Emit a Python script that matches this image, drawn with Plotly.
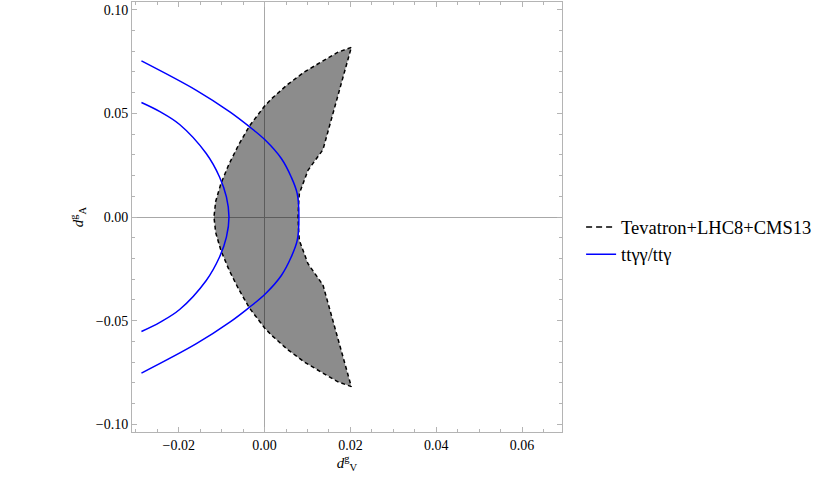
import plotly.graph_objects as go

# allowed region (Tevatron+LHC8+CMS13), traced around the boundary
region_x = [0.0202, 0.0171, 0.0132, 0.0093, 0.0054, 0.0016, 0.0000, -0.0035, -0.0060, -0.0083, -0.0102, -0.0114, -0.0118,
            -0.0114, -0.0102, -0.0083, -0.0060, -0.0035, 0.0000, 0.0016, 0.0054, 0.0093, 0.0132, 0.0171, 0.0202,
            0.0136, 0.0101, 0.0081, 0.0079, 0.0078, 0.0079, 0.0081, 0.0101, 0.0136, 0.0202]
region_y = [0.0818, 0.0795, 0.0748, 0.0700, 0.0640, 0.0570, 0.0535, 0.0440, 0.0350, 0.0255, 0.0160, 0.0075, 0.0,
            -0.0075, -0.0160, -0.0255, -0.0350, -0.0440, -0.0535, -0.0570, -0.0640, -0.0700, -0.0748, -0.0795, -0.0818,
            -0.0328, -0.0225, -0.0113, -0.0055, 0.0, 0.0055, 0.0113, 0.0225, 0.0325, 0.0818]

# ttyy/tty contours
outer_x = [-0.0287, -0.0159, -0.0081, -0.0037, 0.0002, 0.0039, 0.0062, 0.0076, 0.0080,
           0.0076, 0.0062, 0.0039, 0.0002, -0.0037, -0.0081, -0.0159, -0.0287]
outer_y = [0.0753, 0.0611, 0.0507, 0.0438, 0.0370, 0.0282, 0.0193, 0.0113, 0.0,
           -0.0113, -0.0193, -0.0282, -0.0370, -0.0438, -0.0507, -0.0611, -0.0753]
inner_x = [-0.0287, -0.0244, -0.0198, -0.0136, -0.0105, -0.0089, -0.0083,
           -0.0089, -0.0105, -0.0136, -0.0198, -0.0244, -0.0287]
inner_y = [0.0552, 0.0508, 0.0446, 0.0306, 0.0193, 0.0097, 0.0,
           -0.0097, -0.0193, -0.0306, -0.0446, -0.0508, -0.0552]

serif = "Liberation Serif"
frame = "#b4b4b4"

fig = go.Figure()

fig.add_trace(go.Scatter(x=region_x, y=region_y, mode="lines", fill="toself",
                         fillcolor="rgba(0,0,0,0.45)",
                         line=dict(color="black", width=1.5, dash="4px,3px"),
                         showlegend=False, hoverinfo="skip"))
fig.add_trace(go.Scatter(x=outer_x, y=outer_y, mode="lines", line_shape="spline",
                         line=dict(color="#0000ff", width=1.5),
                         legendgroup="b", showlegend=False))
fig.add_trace(go.Scatter(x=inner_x, y=inner_y, mode="lines", line_shape="spline",
                         line=dict(color="#0000ff", width=1.5),
                         legendgroup="b", showlegend=False))

# legend entries
fig.add_trace(go.Scatter(x=[None], y=[None], mode="lines", name="Tevatron+LHC8+CMS13",
                         line=dict(color="black", width=1.5, dash="6px,4px"), legendgroup="a"))
fig.add_trace(go.Scatter(x=[None], y=[None], mode="lines", name="tt\u03b3\u03b3/tt\u03b3",
                         line=dict(color="#0000ff", width=1.5), legendgroup="b"))

axis_common = dict(
    showline=True, linecolor=frame, linewidth=1, mirror="allticks",
    ticks="inside", ticklen=5, tickcolor=frame, tickwidth=1,
    showgrid=False, zeroline=True, zerolinecolor="#a8a8a8", zerolinewidth=1,
    tickformat=".2f", tickfont=dict(family=serif, size=14, color="black"),
    automargin=False,
)

fig.update_xaxes(range=[-0.0309, 0.0693], dtick=0.02, tick0=0,
                 minor=dict(ticks="inside", ticklen=3, dtick=0.005, tickcolor=frame),
                 title=dict(text="<i>d</i><sup>g</sup><sub>V</sub>",
                            font=dict(family=serif, size=15, color="black"), standoff=5),
                 **axis_common)
fig.update_yaxes(range=[-0.1037, 0.1037], dtick=0.05, tick0=0,
                 minor=dict(ticks="inside", ticklen=3, dtick=0.01, tickcolor=frame),
                 title=dict(text="<i>d</i><sup>g</sup><sub>A</sub>",
                            font=dict(family=serif, size=15, color="black"), standoff=8),
                 **axis_common)

fig.update_layout(
    width=818, height=484,
    margin=dict(l=132, r=255, t=2, b=52),
    paper_bgcolor="white", plot_bgcolor="white",
    legend=dict(x=1.042, y=0.444, xanchor="left", yanchor="middle",
                font=dict(family=serif, size=18.5, color="black"),
                traceorder="grouped", tracegroupgap=0, bgcolor="rgba(0,0,0,0)"),
)

# the page body has a default 8px margin; drop it so the figure sits at the corner
fig.write_html("out.html", config={"displayModeBar": False},
               post_script="document.body.style.margin='0';")
